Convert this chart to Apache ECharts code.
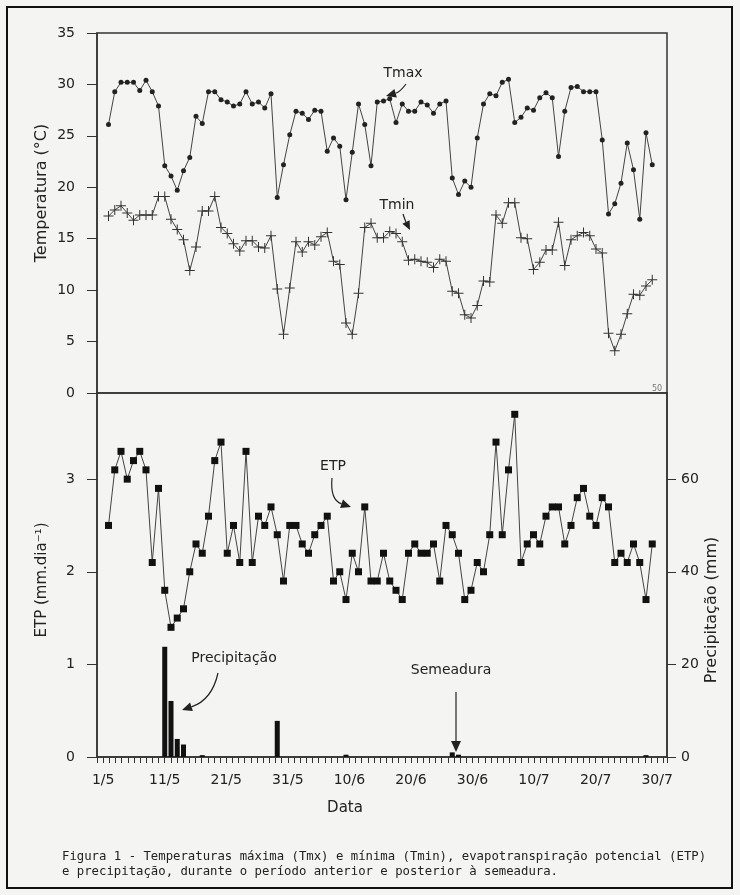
<!DOCTYPE html>
<html>
<head>
<meta charset="utf-8">
<script src="https://cdn.jsdelivr.net/npm/echarts@6/dist/echarts.min.js"></script>
<style>
html, body { margin: 0; padding: 0; background: #f4f4f2; }
#chart { width: 740px; height: 895px; }
</style>
</head>
<body>
<div id="chart"></div>
<script>
// rotulos do eixo x (a cada 10 dias, a partir de 1/5)
const dateLabels = ['1/5', '11/5', '21/5', '31/5', '10/6', '20/6', '30/6', '10/7', '20/7', '30/7']
const tempTicks = [0, 5, 10, 15, 20, 25, 30, 35]
const etpTicks = [0, 1, 2, 3]
const rainTicks = [0, 20, 40, 60]

// temperatura maxima diaria (°C)
const tmax = [26.1, 29.3, 30.2, 30.2, 30.2, 29.4, 30.4, 29.3, 27.9, 22.1,
  21.1, 19.7, 21.6, 22.9, 26.9, 26.2, 29.3, 29.3, 28.5, 28.3,
  27.9, 28.1, 29.3, 28.1, 28.3, 27.7, 29.1, 19.0, 22.2, 25.1,
  27.4, 27.2, 26.6, 27.5, 27.4, 23.5, 24.8, 24.0, 18.8, 23.4,
  28.1, 26.1, 22.1, 28.3, 28.4, 28.6, 26.3, 28.1, 27.4, 27.4,
  28.3, 28.0, 27.2, 28.1, 28.4, 20.9, 19.3, 20.6, 20.0, 24.8,
  28.1, 29.1, 28.9, 30.2, 30.5, 26.3, 26.8, 27.7, 27.5, 28.7,
  29.2, 28.7, 23.0, 27.4, 29.7, 29.8, 29.3, 29.3, 29.3, 24.6,
  17.4, 18.4, 20.4, 24.3, 21.7, 16.9, 25.3, 22.2]

// temperatura minima diaria (°C)
const tmin = [17.2, 17.8, 18.2, 17.5, 16.8, 17.3, 17.3, 17.3, 19.1, 19.1,
  16.9, 15.9, 14.9, 11.9, 14.2, 17.7, 17.7, 19.1, 16.1, 15.5,
  14.5, 13.8, 14.8, 14.8, 14.2, 14.1, 15.3, 10.1, 5.7, 10.2,
  14.7, 13.7, 14.7, 14.4, 15.2, 15.6, 12.8, 12.5, 6.8, 5.7,
  9.7, 16.1, 16.5, 15.1, 15.1, 15.7, 15.5, 14.7, 12.9, 13.0,
  12.8, 12.7, 12.2, 13.0, 12.8, 9.9, 9.7, 7.6, 7.3, 8.5,
  10.9, 10.8, 17.3, 16.5, 18.5, 18.5, 15.1, 15.0, 12.0, 12.7,
  13.9, 13.9, 16.6, 12.4, 14.9, 15.3, 15.6, 15.3, 14.0, 13.6,
  5.8, 4.1, 5.7, 7.7, 9.6, 9.5, 10.4, 11.0]

// evapotranspiracao potencial (mm/dia)
const etp = [2.5, 3.1, 3.3, 3.0, 3.2, 3.3, 3.1, 2.1, 2.9, 1.8,
  1.4, 1.5, 1.6, 2.0, 2.3, 2.2, 2.6, 3.2, 3.4, 2.2,
  2.5, 2.1, 3.3, 2.1, 2.6, 2.5, 2.7, 2.4, 1.9, 2.5,
  2.5, 2.3, 2.2, 2.4, 2.5, 2.6, 1.9, 2.0, 1.7, 2.2,
  2.0, 2.7, 1.9, 1.9, 2.2, 1.9, 1.8, 1.7, 2.2, 2.3,
  2.2, 2.2, 2.3, 1.9, 2.5, 2.4, 2.2, 1.7, 1.8, 2.1,
  2.0, 2.4, 3.4, 2.4, 3.1, 3.7, 2.1, 2.3, 2.4, 2.3,
  2.6, 2.7, 2.7, 2.3, 2.5, 2.8, 2.9, 2.6, 2.5, 2.8,
  2.7, 2.1, 2.2, 2.1, 2.3, 2.1, 1.7, 2.3]

// precipitacao (mm): dia (indice) e lamina
const rainDay = [9, 10, 11, 12, 15, 27, 38, 55, 56, 86]
const rainMm = [23.8, 12.1, 3.9, 2.7, 0.4, 7.8, 0.5, 1.0, 0.5, 0.4]

const ink = '#222'
const axisColor = '#333'
const font = 'DejaVu Sans'
const chart = echarts.init(document.getElementById('chart'))

function idx(arr) {
  return arr.map((v, i) => [i, v])
}

// seta: curva + ponta triangular
function arrow(x1, y1, cx, cy, x2, y2, head) {
  const a = Math.atan2(y2 - cy, x2 - cx)
  const h = head || 9
  const w = h * 0.45
  const bx = x2 - h * Math.cos(a)
  const by = y2 - h * Math.sin(a)
  return [
    {
      type: 'bezierCurve',
      shape: { x1: x1, y1: y1, cpx1: cx, cpy1: cy, x2: bx, y2: by },
      style: { stroke: ink, lineWidth: 1.2, fill: null }
    },
    {
      type: 'polygon',
      shape: {
        points: [[x2, y2],
          [bx + w * Math.sin(a), by - w * Math.cos(a)],
          [bx - w * Math.sin(a), by + w * Math.cos(a)]]
      },
      style: { fill: ink }
    }
  ]
}

function label(text, x, y, size, rot, extra) {
  return Object.assign({
    type: 'text', x: x, y: y, rotation: rot || 0,
    style: { text: text, font: size + 'px ' + font, fill: ink, textAlign: 'center', textVerticalAlign: 'middle' }
  }, extra || {})
}

const cross = 'path://M0,4.5H10V5.5H0Z M4.5,0H5.5V10H4.5Z'
const line = { show: true, onZero: false, lineStyle: { color: axisColor, width: 1.5 } }

let option = {
  backgroundColor: '#f4f4f2',
  animation: false,
  textStyle: { fontFamily: font, color: ink },
  grid: [
    { left: 97, right: 73, top: 33, height: 360, show: true, borderColor: axisColor, borderWidth: 1.5, backgroundColor: 'transparent' },
    { left: 97, right: 73, top: 393, height: 364, show: true, borderColor: axisColor, borderWidth: 1.5, backgroundColor: 'transparent' }
  ],
  xAxis: [
    { gridIndex: 0, type: 'value', min: -1.84, max: 89.36, show: false },
    { gridIndex: 1, type: 'value', min: -1.84, max: 89.36, show: false },
    {
      // eixo de datas: dia 0 = 1/5
      gridIndex: 1, type: 'value', min: -1, max: 91.6, interval: 1, position: 'bottom',
      axisLine: line,
      axisTick: { show: true, length: 6, lineStyle: { color: axisColor } },
      axisLabel: {
        interval: 0, hideOverlap: false, showMinLabel: true, showMaxLabel: true,
        formatter: v => (v >= 0 && v % 10 === 0 ? (dateLabels[v / 10] || '') : ''),
        fontSize: 14, color: ink, margin: 16, fontFamily: font
      },
      splitLine: { show: false }
    }
  ],
  yAxis: [
    {
      gridIndex: 0, type: 'value', min: 0, max: 35, interval: 5,
      axisLine: line,
      axisTick: { show: true, length: 10, lineStyle: { color: axisColor } },
      axisLabel: { fontSize: 14, color: ink, margin: 22 },
      splitLine: { show: false }
    },
    {
      gridIndex: 1, type: 'value', min: 0, max: 3.93,
      axisLine: line,
      axisTick: { show: true, length: 10, customValues: etpTicks, lineStyle: { color: axisColor } },
      axisLabel: { fontSize: 14, color: ink, margin: 22, customValues: etpTicks },
      splitLine: { show: false }
    },
    {
      gridIndex: 1, type: 'value', min: 0, max: 78.6, position: 'right',
      axisLine: line,
      axisTick: { show: true, length: 9, customValues: rainTicks, lineStyle: { color: axisColor } },
      axisLabel: { fontSize: 14, color: ink, margin: 14, customValues: rainTicks },
      splitLine: { show: false }
    }
  ],
  series: [
    {
      name: 'Tmax', type: 'line', xAxisIndex: 0, yAxisIndex: 0,
      data: idx(tmax), symbol: 'circle', symbolSize: 5,
      itemStyle: { color: '#222' }, lineStyle: { color: '#444', width: 1 }
    },
    {
      name: 'Tmin', type: 'line', xAxisIndex: 0, yAxisIndex: 0,
      data: idx(tmin), symbol: cross, symbolSize: 10,
      itemStyle: { color: '#333' }, lineStyle: { color: '#444', width: 1 }
    },
    {
      name: 'ETP', type: 'line', xAxisIndex: 1, yAxisIndex: 1,
      data: idx(etp), symbol: 'rect', symbolSize: 7,
      itemStyle: { color: '#111' }, lineStyle: { color: '#444', width: 1 }
    },
    {
      name: 'Precipitação', type: 'bar', xAxisIndex: 1, yAxisIndex: 2,
      data: rainDay.map((d, k) => [d, rainMm[k]]), barWidth: 5,
      itemStyle: { color: '#111' }
    }
  ],
  graphic: [
    { type: 'rect', shape: { x: 7, y: 7, width: 725, height: 881 }, style: { fill: null, stroke: '#111', lineWidth: 2 } },
    label('Temperatura (°C)', 42, 193, 16, Math.PI / 2),
    label('ETP (mm.dia⁻¹)', 42, 580, 15, Math.PI / 2),
    label('Precipitação (mm)', 712, 610, 16, Math.PI / 2),
    label('Data', 345, 808, 15),
    label('Tmax', 403, 73, 14),
    label('Tmin', 397, 205, 14),
    label('ETP', 333, 466, 14),
    label('Precipitação', 234, 658, 14),
    label('Semeadura', 451, 670, 14),
    label('50', 657, 389, 8, 0, { style: { text: '50', font: '8px ' + font, fill: '#777', textAlign: 'center', textVerticalAlign: 'middle' } }),
    ...arrow(406, 84, 400, 92, 386, 96, 10),
    ...arrow(403, 214, 405, 220, 410, 230, 9),
    ...arrow(332, 478, 330, 500, 351, 507, 10),
    ...arrow(218, 673, 212, 700, 182, 710, 10),
    ...arrow(456, 692, 456, 720, 456, 752, 11),
    { type: 'text', x: 62, y: 857, style: { text: 'Figura 1 - Temperaturas máxima (Tmx) e mínima (Tmin), evapotranspiração potencial (ETP)', font: '12.3px DejaVu Sans Mono', fill: ink, textVerticalAlign: 'middle' } },
    { type: 'text', x: 62, y: 872, style: { text: 'e precipitação, durante o período anterior e posterior à semeadura.', font: '12.3px DejaVu Sans Mono', fill: ink, textVerticalAlign: 'middle' } }
  ]
}

chart.setOption(option)
</script>
</body>
</html>
